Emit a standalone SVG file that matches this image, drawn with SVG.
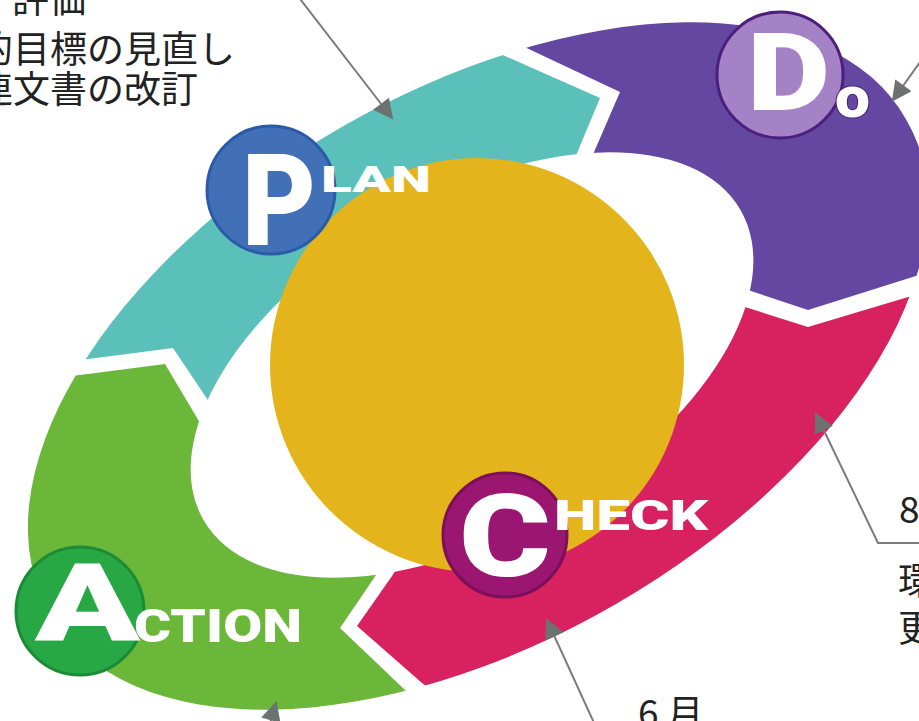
<svg xmlns="http://www.w3.org/2000/svg" xmlns:xlink="http://www.w3.org/1999/xlink" width="919" height="721" viewBox="0 0 919 721">
<style>
.big{font-family:Roboto,"Liberation Sans",Arial,sans-serif;font-weight:900;fill:#fff}
.jp{font-family:"Noto Sans CJK JP","Noto Sans",sans-serif;font-size:37px;fill:#222}
.lead{fill:none;stroke:#7b7b7b;stroke-width:2}
</style>
<defs>
<path id="ring" fill-rule="evenodd" d="M905.8,119 A494,273 -30 1 0 50.2,613 A494,273 -30 1 0 905.8,119 Z M740.5,210 A310,168 -30 1 0 203.5,520 A310,168 -30 1 0 740.5,210 Z"/>
<clipPath id="cPlan"><polygon points="42,365 173,348 238,445 472,365 556,204 575,158 600,98 471,41 0,0 -50,0 -50,365"/></clipPath>
<clipPath id="cDo"><polygon points="497,34 620,92 572,203 472,365 710,277 748,290 808,310 967,260 1000,260 1000,-50 497,-50"/></clipPath>
<clipPath id="cCheck"><polygon points="707,295 745,307 808,327 955,283 1000,283 1000,800 463,800 463,715 422,683 357,626 392,576 418,534 472,365"/></clipPath>
<clipPath id="cAction"><polygon points="38,380 88,374 165,364 200,423 225,466 472,365 400,535 374,578 340,628 405,690 441,724 441,800 -50,800 -50,380"/></clipPath>
<marker id="ah" viewBox="0 0 10 10" refX="9" refY="5" markerWidth="24" markerHeight="20" markerUnits="userSpaceOnUse" orient="auto"><path d="M0,0 L10,5 L0,10 z" fill="#6b726f"/></marker>
</defs>
<rect width="919" height="721" fill="#fff"/>
<g id="plan-arc"><use xlink:href="#ring" fill="#5bbfba" clip-path="url(#cPlan)"/></g>
<g id="do-arc"><use xlink:href="#ring" fill="#6447a0" clip-path="url(#cDo)"/></g>
<g id="check-arc"><use xlink:href="#ring" fill="#d8225f" clip-path="url(#cCheck)"/></g>
<g id="action-arc"><use xlink:href="#ring" fill="#6ab73a" clip-path="url(#cAction)"/></g>
<g id="center"><circle cx="477" cy="365" r="207" fill="#e3b41b"/></g>
<g id="plan">
<circle cx="271" cy="190" r="64" fill="#4270b6" stroke="#2b5ba8" stroke-width="3"/>
<text class="big" x="242" y="245" font-size="128" textLength="74" lengthAdjust="spacingAndGlyphs">P</text>
<text class="big" x="321" y="192" font-size="36" textLength="110" lengthAdjust="spacingAndGlyphs">LAN</text>
</g>
<g id="do">
<circle cx="780" cy="75" r="63" fill="#a582c6" stroke="#4d1f7c" stroke-width="3"/>
<text class="big" x="747" y="110" font-size="108" textLength="83" lengthAdjust="spacingAndGlyphs">D</text>
<text class="big" x="835" y="117" font-size="58" textLength="35" lengthAdjust="spacingAndGlyphs" stroke="#4d1f7c" stroke-width="2" paint-order="stroke">o</text>
</g>
<g id="check">
<circle cx="505" cy="535" r="62" fill="#9b1670" stroke="#7d0f5a" stroke-width="3"/>
<text class="big" x="459" y="576" font-size="115" textLength="92" lengthAdjust="spacingAndGlyphs">C</text>
<text class="big" x="554" y="530" font-size="42" textLength="154" lengthAdjust="spacingAndGlyphs">HECK</text>
</g>
<g id="action">
<circle cx="80" cy="611" r="64" fill="#28a845" stroke="#1b8b36" stroke-width="3"/>
<text class="big" x="35" y="640" font-size="108" textLength="105" lengthAdjust="spacingAndGlyphs">A</text>
<text class="big" x="134" y="642" font-size="47" textLength="168" lengthAdjust="spacingAndGlyphs">CTION</text>
</g>
<g id="connectors">
<path class="lead" d="M297,-5 L392,118" marker-end="url(#ah)"/>
<path class="lead" d="M925,55 L893,100" marker-end="url(#ah)"/>
<path class="lead" d="M925,543 L878,543 L816,414" marker-end="url(#ah)"/>
<path class="lead" d="M595,725 L547,620" marker-end="url(#ah)"/>
<path class="lead" d="M265,740 L276,703" marker-end="url(#ah)"/>
</g>
<g id="labels">
<text class="jp" x="12" y="13">評価</text>
<text class="jp" x="-24" y="63">的目標の見直し</text>
<text class="jp" x="-24" y="103">連文書の改訂</text>
<text class="jp" x="899" y="523" font-size="33">8</text>
<text class="jp" x="898" y="595">環</text>
<text class="jp" x="898" y="642">更</text>
<text class="jp" x="638" y="727">6 月</text>
</g>
</svg>
